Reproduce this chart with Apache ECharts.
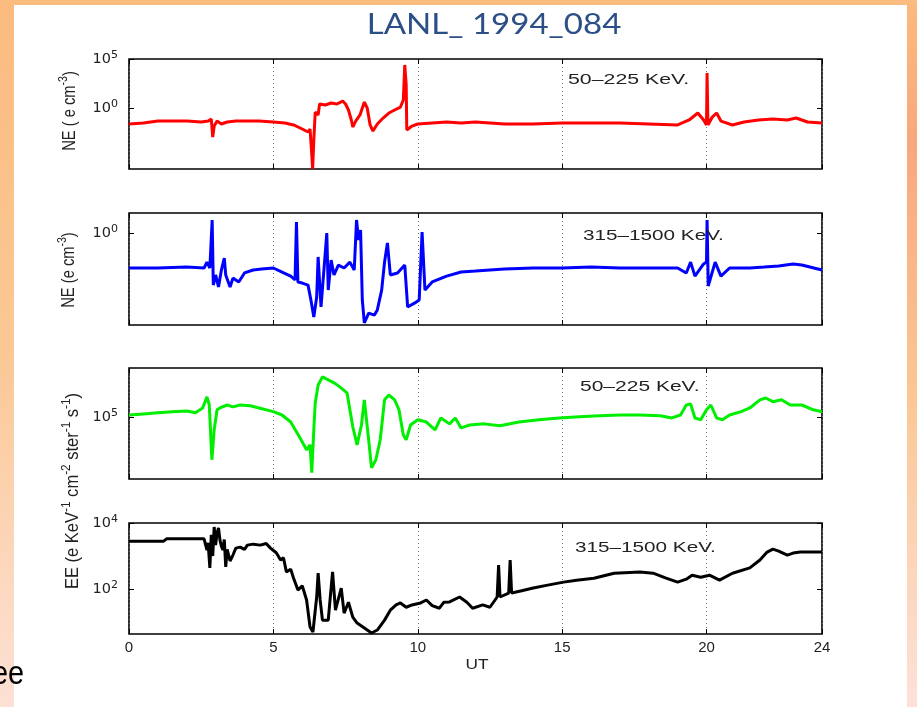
<!DOCTYPE html>
<html>
<head>
<meta charset="utf-8">
<script src="https://cdn.jsdelivr.net/npm/echarts@6/dist/echarts.min.js"></script>
<style>
html,body{margin:0;padding:0;background:#fff;}
#chart{width:917px;height:707px;}
</style>
</head>
<body>
<div id="chart"></div>
<script>
// ---- DATA (time in UT hours, values given as log10 of the plotted quantity) ----
const xTickLabels = [0, 5, 10, 15, 20, 24];

// Panel 1: NE 50-225 KeV (log10 e cm^-3)
const redUT = [0,0.5,1,1.5,2,2.5,2.75,2.85,2.9,2.95,3.05,3.2,3.4,3.7,4,4.5,5,5.4,5.7,6,6.2,6.27,6.32,6.36,6.4,6.45,6.55,6.6,6.8,7,7.2,7.4,7.5,7.6,7.7,7.75,7.85,8,8.15,8.25,8.35,8.45,8.6,8.8,9,9.2,9.4,9.5,9.55,9.6,9.62,9.8,10,10.5,11,11.5,12,12.5,13,14,15,16,17,18,19,19.4,19.7,19.9,20,20.02,20.05,20.2,20.35,20.5,20.9,21.3,21.8,22.3,22.8,23.1,23.5,24];
const redLogNE = [-1.63,-1.53,-1.33,-1.33,-1.33,-1.43,-1.33,-1.12,-2.96,-1.84,-1.33,-1.63,-1.43,-1.33,-1.33,-1.33,-1.43,-1.53,-1.73,-2.14,-2.45,-2.14,-4.29,-6.2,-3.27,-0.41,-0.71,0.41,0.31,0.51,0.41,0.71,0.41,-0.2,-1.22,-1.94,-1.33,-0.71,0.61,0,-1.73,-2.35,-1.63,-1.02,-0.51,-0.2,0.1,0.82,4.39,2.35,-2.24,-1.84,-1.63,-1.53,-1.43,-1.53,-1.43,-1.53,-1.63,-1.63,-1.53,-1.53,-1.53,-1.63,-1.73,-1.22,-0.51,-1.22,-1.73,3.57,-1.73,-0.92,-0.51,-1.33,-1.73,-1.43,-1.22,-1.12,-1.22,-1.02,-1.43,-1.53];

// Panel 2: NE 315-1500 KeV (log10 e cm^-3)
const blueUT = [0,1,2,2.6,2.7,2.8,2.88,2.92,3,3.1,3.2,3.3,3.35,3.5,3.6,3.8,4,4.3,4.6,5,5.3,5.6,5.75,5.8,5.85,6,6.2,6.3,6.4,6.5,6.55,6.65,6.75,6.85,6.9,7,7.1,7.25,7.45,7.65,7.8,7.88,7.95,8.02,8.08,8.15,8.3,8.5,8.6,8.75,8.85,8.95,9.05,9.3,9.55,9.65,9.9,10.05,10.15,10.25,10.5,11,11.5,12,13,14,15,16,17,18,19,19.3,19.45,19.6,19.9,20,20.02,20.06,20.3,20.5,20.8,21.5,22,22.5,23,23.3,24];
const blueLogNE = [-1.9,-1.9,-1.85,-1.9,-1.58,-1.9,0.71,-2.83,-2.28,-2.93,-2.01,-1.36,-2.28,-2.93,-2.45,-2.66,-2.17,-2.01,-1.96,-1.9,-2.12,-2.34,-2.55,0.6,-2.66,-2.72,-2.83,-3.64,-4.57,-3.48,-1.3,-4.02,-2.01,0,-3.1,-1.47,-2.28,-1.74,-1.9,-1.58,-2.01,0.71,-0.38,0.16,-3.64,-4.89,-4.35,-4.46,-4.18,-3.1,-1.58,-0.54,-2.28,-2.17,-1.74,-4.02,-3.8,-3.64,0.05,-3.1,-2.66,-2.34,-2.12,-2.07,-1.96,-1.9,-1.9,-1.85,-1.9,-1.9,-1.9,-2.17,-1.58,-2.34,-1.68,-1.58,0.71,-2.88,-1.58,-2.34,-1.9,-1.9,-1.85,-1.79,-1.68,-1.74,-2.01];

// Panel 3: EE 50-225 KeV (log10 e KeV^-1 cm^-2 ster^-1 s^-1)
const greenUT = [0,0.5,1,1.5,2,2.3,2.55,2.7,2.78,2.87,2.95,3.05,3.15,3.4,3.6,3.85,4.2,4.5,5,5.3,5.6,5.9,6.15,6.27,6.33,6.4,6.45,6.55,6.7,6.9,7.1,7.3,7.55,7.75,7.9,8.05,8.15,8.3,8.4,8.55,8.7,8.85,9,9.2,9.35,9.5,9.6,9.75,10,10.3,10.6,10.8,11.1,11.3,11.5,11.8,12.3,12.85,13.5,14.2,14.9,15.6,16.3,17,17.7,18.4,18.8,19.1,19.3,19.45,19.6,19.8,20,20.15,20.35,20.55,20.8,21.2,21.5,21.85,22.05,22.3,22.6,22.9,23.3,23.7,24];
const greenLogEE = [5.05,5.08,5.11,5.14,5.16,5.11,5.24,5.54,5.32,3.84,4.65,5.19,5.24,5.32,5.27,5.32,5.3,5.24,5.14,5.05,4.86,4.46,4.11,4.24,3.49,4.65,5.38,5.86,6.08,6,5.92,5.81,5.65,4.73,4.24,4.78,5.46,4.38,3.62,3.84,4.38,5.46,5.59,5.46,5.19,4.51,4.38,4.78,4.92,4.86,4.65,4.97,4.81,4.97,4.7,4.78,4.81,4.76,4.86,4.92,4.97,5,5.03,5.05,5.05,5.03,4.97,5.05,5.32,5.35,4.97,4.92,5.19,5.32,4.97,4.92,5.05,5.14,5.24,5.46,5.51,5.41,5.46,5.32,5.32,5.19,5.14];

// Panel 4: EE 315-1500 KeV (log10 e KeV^-1 cm^-2 ster^-1 s^-1)
const blackUT = [0,1.2,1.3,2.6,2.7,2.74,2.8,2.85,2.9,2.95,3,3.05,3.1,3.15,3.2,3.25,3.3,3.35,3.4,3.45,3.5,3.6,3.7,3.85,4,4.1,4.3,4.55,4.75,4.9,5.1,5.25,5.35,5.45,5.6,5.7,5.85,6,6.15,6.27,6.37,6.5,6.55,6.62,6.7,6.9,7.05,7.15,7.35,7.45,7.6,7.75,7.9,8.15,8.4,8.6,8.85,9.05,9.25,9.4,9.6,9.8,10.1,10.3,10.5,10.75,10.9,11.1,11.45,11.7,11.9,12.25,12.5,12.75,12.8,12.85,13.15,13.2,13.25,13.6,14,14.5,15.05,15.5,16.1,16.8,17.7,18.15,18.6,19,19.3,19.5,19.8,20.1,20.45,20.9,21.5,21.85,22.1,22.3,22.5,22.8,23,23.25,24];
const blackLogEE = [3.45,3.45,3.52,3.52,3.18,3.4,2.64,3.64,3.0,3.88,3.33,3.7,3.85,3.48,3.3,3.18,3.5,2.67,3.2,3.03,2.85,3.03,3.24,3.27,3.2,3.33,3.36,3.33,3.38,3.24,3.1,2.88,2.95,2.52,2.6,2.33,1.97,2.1,1.67,0.85,0.7,1.76,2.48,1.67,1.06,1.06,2.52,1.36,2.03,1.27,1.6,1.15,0.97,0.82,0.67,0.76,1.06,1.36,1.52,1.58,1.45,1.52,1.58,1.67,1.5,1.42,1.6,1.61,1.76,1.6,1.42,1.52,1.45,1.76,2.73,1.76,1.88,2.88,1.88,1.95,2.03,2.12,2.21,2.27,2.33,2.48,2.52,2.48,2.33,2.21,2.3,2.42,2.36,2.42,2.27,2.48,2.64,2.88,3.12,3.21,3.15,3.03,3.09,3.12,3.12];

// y-axis decade ticks (exponents) per panel
const p1Ticks = [0, 5];
const p2Ticks = [0];
const p3Ticks = [5];
const p4Ticks = [2, 4];

// ---- CHART ----
const FONT = "'Liberation Sans', Arial, Helvetica, sans-serif";
const TICKFONT = "'DejaVu Sans', 'Liberation Sans', sans-serif";
const zip = (a, b) => a.map((v, i) => [v, b[i]]);

const panels = [
  {top: 59, height: 110, min: -6.22, max: 5, ticks: p1Ticks, color: '#ff0000', ut: redUT, val: redLogNE},
  {top: 213, height: 112, min: -5.0, max: 1.09, ticks: p2Ticks, color: '#0000ff', ut: blueUT, val: blueLogNE},
  {top: 368, height: 111, min: 3.32, max: 6.32, ticks: p3Ticks, color: '#00ee00', ut: greenUT, val: greenLogEE},
  {top: 523, height: 111, min: 0.64, max: 4, ticks: p4Ticks, color: '#000000', ut: blackUT, val: blackLogEE}
];

const grids = [], xAxes = [], yAxes = [], series = [];
const supRich = {
  b: {fontSize: 14.5, fontFamily: TICKFONT, color: '#222', lineHeight: 18},
  s: {fontSize: 11, fontFamily: TICKFONT, color: '#222', lineHeight: 9, verticalAlign: 'top'}
};
const tickStyle = {color: '#000', width: 1};
panels.forEach((p, i) => {
  grids.push({left: 129, right: 95, top: p.top, height: p.height, show: true,
    borderColor: '#000', borderWidth: 1.6, backgroundColor: 'transparent'});
});
panels.forEach((p, i) => {
  xAxes.push({type: 'value', gridIndex: i, min: 0, max: 24, interval: 5, position: 'bottom',
    axisLine: {show: false, onZero: false},
    axisTick: {show: true, inside: true, length: 5, lineStyle: tickStyle},
    axisLabel: i === 3 ? {show: true, customValues: xTickLabels, fontSize: 15, fontFamily: FONT, color: '#222', margin: 6} : {show: false},
    splitLine: {show: true, lineStyle: {type: [1, 3], color: '#777', width: 1}}
  });
});
panels.forEach((p, i) => {
  xAxes.push({type: 'value', gridIndex: i, min: 0, max: 24, interval: 5, position: 'top',
    axisLine: {show: false, onZero: false},
    axisTick: {show: true, inside: true, length: 5, lineStyle: tickStyle},
    axisLabel: {show: false}, splitLine: {show: false}
  });
});
panels.forEach((p, i) => {
  yAxes.push({type: 'value', gridIndex: i, min: p.min, max: p.max, position: 'left',
    axisLine: {show: false, onZero: false},
    axisTick: {show: true, inside: true, length: 5, customValues: p.ticks, lineStyle: tickStyle},
    axisLabel: {show: true, customValues: p.ticks, margin: 11,
      formatter: v => '{b|10}{s|' + v + '}', rich: supRich},
    splitLine: {show: false}
  });
});
panels.forEach((p, i) => {
  yAxes.push({type: 'value', gridIndex: i, min: p.min, max: p.max, position: 'right',
    axisLine: {show: false, onZero: false},
    axisTick: {show: true, inside: true, length: 5, customValues: p.ticks, lineStyle: tickStyle},
    axisLabel: {show: false}, splitLine: {show: false}
  });
});
panels.forEach((p, i) => {
  series.push({type: 'line', xAxisIndex: i, yAxisIndex: i, data: zip(p.ut, p.val),
    showSymbol: false, symbol: 'none', lineStyle: {color: p.color, width: 3}, z: 3, clip: true});
});

const txt = (x, y, text, style, extra) => Object.assign({type: 'text', x: x, y: y, z: 10,
  style: Object.assign({text: text, fill: '#222', font: '15px ' + FONT, align: 'left', verticalAlign: 'middle'}, style || {})}, extra || {});
const axRich = {
  n: {fontSize: 14, fontFamily: FONT, color: '#222', lineHeight: 20},
  s: {fontSize: 10, fontFamily: FONT, color: '#222', lineHeight: 10, verticalAlign: 'top'}
};
const rotTxt = (x, y, text, sx, sy) => ({type: 'text', x: x, y: y, rotation: Math.PI / 2, scaleX: sx, scaleY: sy, z: 10,
  style: {text: text, rich: axRich, align: 'center', verticalAlign: 'middle', fill: '#222'}});

const graphic = [
  {type: 'rect', z: -10, shape: {x: 0, y: 0, width: 14, height: 707},
    style: {fill: new echarts.graphic.LinearGradient(0, 0, 0, 1, [
      {offset: 0, color: '#fbbb7f'}, {offset: 0.5, color: '#fbc895'}, {offset: 1, color: '#fde1d6'}])}},
  {type: 'rect', z: -10, shape: {x: 907, y: 0, width: 10, height: 707},
    style: {fill: new echarts.graphic.LinearGradient(0, 0, 0, 1, [
      {offset: 0, color: '#fbba7e'}, {offset: 0.2, color: '#f9a77c'}, {offset: 0.55, color: '#fbc692'}, {offset: 1, color: '#fde1d9'}])}},
  {type: 'rect', z: -10, shape: {x: 0, y: 0, width: 917, height: 5}, style: {fill: '#fbbc80'}},
  txt(494, 25, 'LANL_ 1994_084', {font: '29px Lato, "Noto Sans", sans-serif', fill: '#2b4f86', align: 'center'}, {scaleX: 1.14}),
  txt(-8, 675, 'ee', {font: '34px ' + FONT, fill: '#000'}, {scaleX: 0.85}),
  txt(568, 80, '50\u2013225 KeV.', null, {scaleX: 1.42}),
  txt(583, 236, '315\u20131500 KeV.', null, {scaleX: 1.38}),
  txt(580, 387, '50\u2013225 KeV.', null, {scaleX: 1.4}),
  txt(575, 548, '315\u20131500 KeV.', null, {scaleX: 1.38}),
  txt(477, 665, 'UT', {align: 'center', font: '15px ' + FONT}, {scaleX: 1.15}),
  rotTxt(70, 111, '{n|NE ( e cm}{s|-3}{n|)}', 1.05, 1.25),
  rotTxt(69, 270, '{n|NE (e cm}{s|-3}{n|)}', 1.05, 1.25),
  rotTxt(73, 491, '{n|EE (e KeV}{s|-1}{n| cm}{s|-2}{n| ster}{s|-1}{n| s}{s|-1}{n|)}', 1.18, 1.25)
];

const chart = echarts.init(document.getElementById('chart'), null, {renderer: 'canvas'});
chart.setOption({
  animation: false,
  backgroundColor: '#fff',
  grid: grids, xAxis: xAxes, yAxis: yAxes, series: series, graphic: graphic
});
</script>
</body>
</html>
